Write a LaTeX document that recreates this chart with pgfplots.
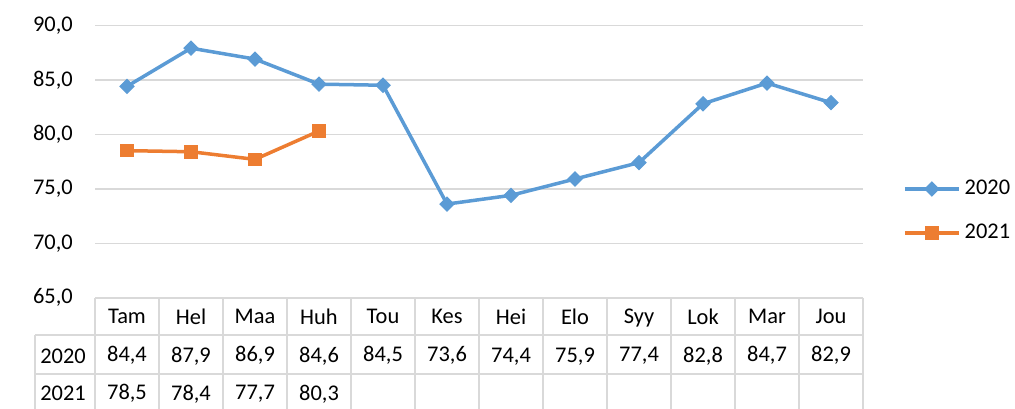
\documentclass[border=0pt]{standalone}
\usepackage{fontspec}
\setmainfont{Carlito}
\usepackage{pgfplots}
\pgfplotsset{compat=1.18}
\definecolor{cblue}{HTML}{5B9BD5}
\definecolor{corange}{HTML}{ED7D31}
\definecolor{cgrid}{HTML}{D9D9D9}
\begin{document}
\begin{tikzpicture}[x=1bp,y=1bp]
\useasboundingbox (0,0) rectangle (1015,408);
\begin{axis}[
  at={(95bp,110.2bp)}, anchor=south west,
  scale only axis, width=768bp, height=272.5bp,
  xmin=-0.5, xmax=11.5, ymin=65, ymax=90,
  ytick={65,70,...,90},
  xtick={0,...,11},
  xticklabels={{Tam\\84,4\\78,5},{Hel\\87,9\\78,4},{Maa\\86,9\\77,7},{Huh\\84,6\\80,3},
    {Tou\\84,5\\\phantom{0}},{Kes\\73,6\\\phantom{0}},{Hei\\74,4\\\phantom{0}},{Elo\\75,9\\\phantom{0}},
    {Syy\\77,4\\\phantom{0}},{Lok\\82,8\\\phantom{0}},{Mar\\84,7\\\phantom{0}},{Jou\\82,9\\\phantom{0}}},
  ymajorgrids, grid style={cgrid, line width=1.5bp},
  axis line style={draw=none}, tick style={draw=none},
  ticklabel style={font=\fontsize{22.5}{38}\selectfont},
  xticklabel style={align=center, anchor=north, inner sep=0pt, yshift=-11bp},
  yticklabel style={anchor=east, inner sep=0pt, xshift=-22bp,
    /pgf/number format/fixed, /pgf/number format/fixed zerofill,
    /pgf/number format/precision=1, /pgf/number format/use comma,
    /pgf/number format/assume math mode=true},
  clip=false,
  legend image code/.code={\draw[mark repeat=2,mark phase=2,#1] plot coordinates {(0bp,0bp) (27bp,0bp) (54bp,0bp)};},
  legend style={at={(1.052,0.3185)}, anchor=west, draw=none, fill=none, inner sep=0pt,
    row sep=25bp, column sep=4bp, font=\fontsize{22.5}{26}\selectfont,
    nodes={inner sep=0pt, text height=15bp, text depth=4bp}},
  legend cell align=left,
]
\addplot[cblue, line width=3.5bp, mark=square*, mark size=5bp,
  mark options={solid, rotate=45, line width=1bp}]
  coordinates {(0,84.4) (1,87.9) (2,86.9) (3,84.6) (4,84.5) (5,73.6)
               (6,74.4) (7,75.9) (8,77.4) (9,82.8) (10,84.7) (11,82.9)};
\addlegendentry{2020}
\addplot[corange, line width=3.5bp, mark=square*, mark size=6.3bp,
  mark options={solid, line width=1bp}]
  coordinates {(0,78.5) (1,78.4) (2,77.7) (3,80.3)};
\addlegendentry{2021}
\end{axis}
\draw[cgrid, line width=1.5bp]
  \foreach \k in {0,...,12} {(95+64*\k,110.2) -- (95+64*\k,-5)}
  (35,73) -- (863,73) (35,34) -- (863,34) (35,73) -- (35,-5);
\node[font=\fontsize{22.5}{26}\selectfont, inner sep=0pt, anchor=base] at (63,408-363) {2020};
\node[font=\fontsize{22.5}{26}\selectfont, inner sep=0pt, anchor=base] at (63,408-400) {2021};
\end{tikzpicture}
\end{document}
